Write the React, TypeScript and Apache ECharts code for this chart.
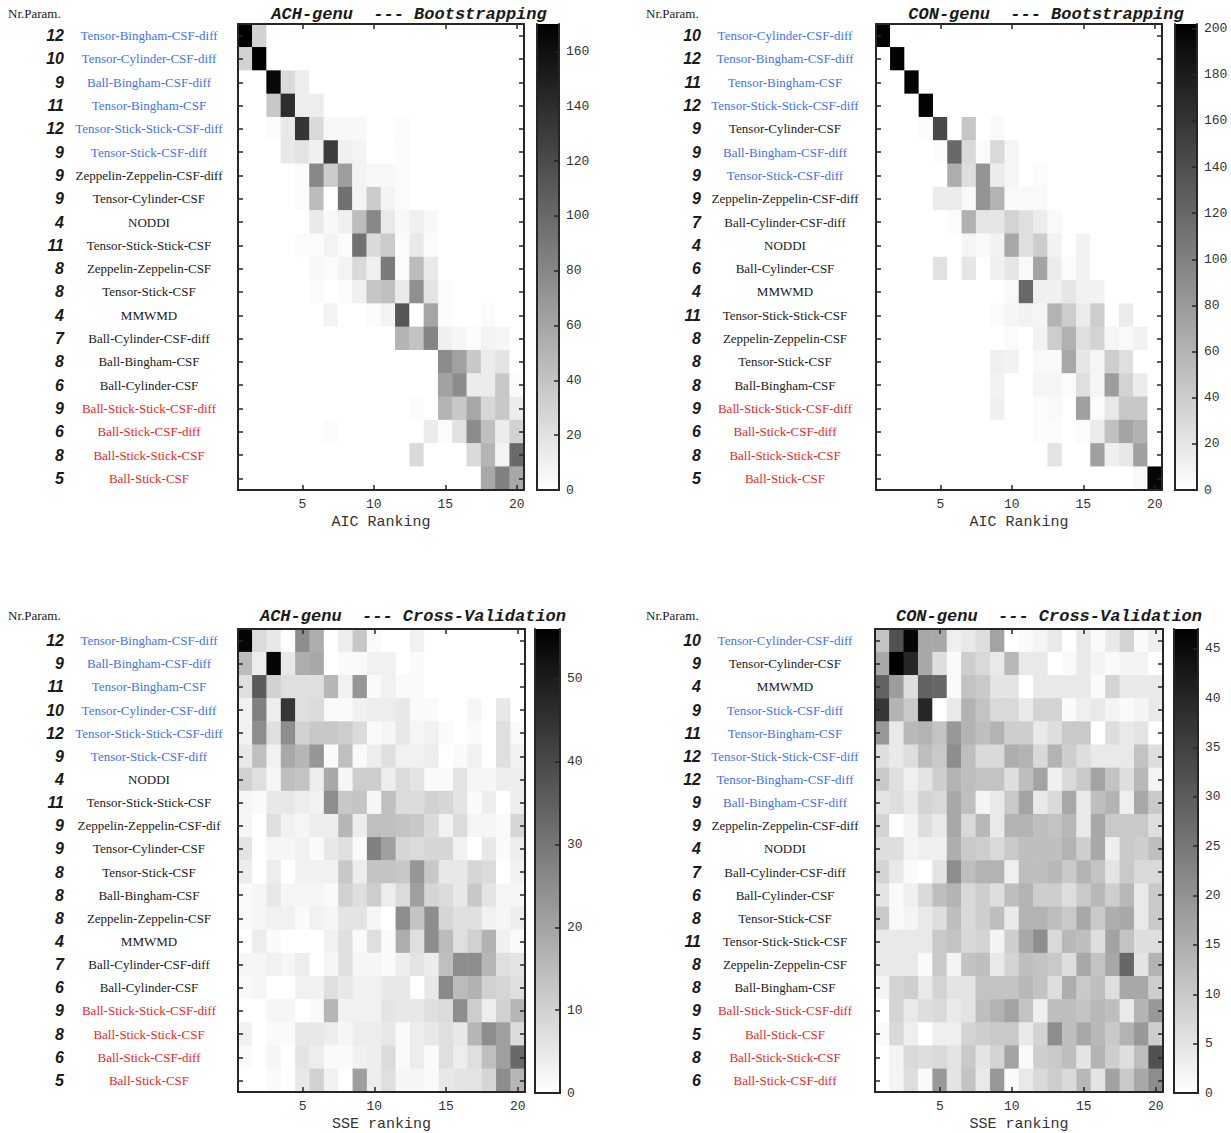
import React, { useEffect, useRef } from "react";
import * as echarts from "echarts";

const RANKS = ["1","2","3","4","5","6","7","8","9","10","11","12","13","14","15","16","17","18","19","20"];

// ---------- Panel 1: ACH-genu Bootstrapping ----------
const achBootNames = ["Tensor-Bingham-CSF-diff","Tensor-Cylinder-CSF-diff","Ball-Bingham-CSF-diff","Tensor-Bingham-CSF","Tensor-Stick-Stick-CSF-diff","Tensor-Stick-CSF-diff","Zeppelin-Zeppelin-CSF-diff","Tensor-Cylinder-CSF","NODDI","Tensor-Stick-Stick-CSF","Zeppelin-Zeppelin-CSF","Tensor-Stick-CSF","MMWMD","Ball-Cylinder-CSF-diff","Ball-Bingham-CSF","Ball-Cylinder-CSF","Ball-Stick-Stick-CSF-diff","Ball-Stick-CSF-diff","Ball-Stick-Stick-CSF","Ball-Stick-CSF"];
const achBootParams = ["12","10","9","11","12","9","9","9","4","11","8","8","4","7","8","6","9","6","8","5"];
const achBootColors = ["b","b","b","b","b","b","k","k","k","k","k","k","k","k","k","k","r","r","r","r"];
const achBootValues = [
  [170,30,0,0,0,0,0,0,0,0,0,0,0,0,0,0,0,0,0,0],
  [30,170,0,0,0,0,0,0,0,0,0,0,0,0,0,0,0,0,0,0],
  [0,0,165,25,12,0,0,0,0,0,0,0,0,0,0,0,0,0,0,0],
  [0,0,37,140,12,12,0,0,0,0,0,0,0,0,0,0,0,0,0,0],
  [0,0,3,15,135,25,5,5,5,0,0,3,0,0,0,0,0,0,0,0],
  [0,0,0,15,18,10,130,10,8,0,0,3,0,0,0,0,0,0,0,0],
  [0,0,0,0,3,80,35,65,8,5,5,3,0,0,0,0,0,0,0,0],
  [0,0,0,0,3,45,0,95,8,35,8,3,0,0,0,0,0,0,0,0],
  [0,0,0,0,0,15,5,10,45,80,15,5,10,5,0,0,0,0,0,0],
  [0,0,0,0,3,3,8,3,95,25,35,3,15,3,0,0,0,0,0,0],
  [0,0,0,0,0,5,3,8,25,10,88,3,45,15,0,0,0,0,0,0],
  [0,0,0,0,0,3,0,3,10,38,42,15,74,18,3,0,0,0,0,0],
  [0,0,0,0,0,0,8,0,0,3,8,112,0,60,3,0,0,3,0,0],
  [0,0,0,0,0,0,0,0,0,0,0,50,40,82,10,6,3,8,6,0],
  [0,0,0,0,0,0,0,0,0,0,0,0,0,0,77,63,37,13,18,0],
  [0,0,0,0,0,0,0,0,0,0,0,0,0,0,63,77,13,13,37,3],
  [0,0,0,0,0,0,0,0,0,0,0,0,3,0,50,37,58,27,37,13],
  [0,0,0,0,0,0,3,0,0,0,0,0,0,13,3,20,77,43,13,30],
  [0,0,0,0,0,0,0,0,0,0,0,0,25,0,0,0,25,50,8,100],
  [0,0,0,0,0,0,0,0,0,0,0,0,0,0,0,0,0,58,85,58],
];

// ---------- Panel 2: CON-genu Bootstrapping ----------
const conBootNames = ["Tensor-Cylinder-CSF-diff","Tensor-Bingham-CSF-diff","Tensor-Bingham-CSF","Tensor-Stick-Stick-CSF-diff","Tensor-Cylinder-CSF","Ball-Bingham-CSF-diff","Tensor-Stick-CSF-diff","Zeppelin-Zeppelin-CSF-diff","Ball-Cylinder-CSF-diff","NODDI","Ball-Cylinder-CSF","MMWMD","Tensor-Stick-Stick-CSF","Zeppelin-Zeppelin-CSF","Tensor-Stick-CSF","Ball-Bingham-CSF","Ball-Stick-Stick-CSF-diff","Ball-Stick-CSF-diff","Ball-Stick-Stick-CSF","Ball-Stick-CSF"];
const conBootParams = ["10","12","11","12","9","9","9","9","7","4","6","4","11","8","8","8","9","6","8","5"];
const conBootColors = ["b","b","b","b","k","b","b","k","k","k","k","k","k","k","k","k","r","r","r","r"];
const conBootValues = [
  [200,0,0,0,0,0,0,0,0,0,0,0,0,0,0,0,0,0,0,0],
  [0,200,0,0,0,0,0,0,0,0,0,0,0,0,0,0,0,0,0,0],
  [0,0,200,0,0,0,0,0,0,0,0,0,0,0,0,0,0,0,0,0],
  [0,0,0,200,0,0,0,0,0,0,0,0,0,0,0,0,0,0,0,0],
  [0,0,0,3,145,0,45,0,5,0,0,0,0,0,0,0,0,0,0,0],
  [0,0,0,0,3,120,30,3,30,8,0,0,0,0,0,0,0,0,0,0],
  [0,0,0,0,0,65,25,85,15,8,0,3,0,0,0,0,0,0,0,0],
  [0,0,0,0,15,15,5,85,60,5,5,5,0,0,0,0,0,0,0,0],
  [0,0,0,0,0,3,62,20,20,35,25,15,5,0,0,0,0,0,0,0],
  [0,0,0,0,0,0,8,5,10,70,25,40,10,0,10,0,0,0,0,0],
  [0,0,0,0,24,0,20,0,12,20,5,72,15,3,10,0,0,0,0,0],
  [0,0,0,0,0,0,0,0,0,5,120,12,12,20,10,10,0,0,0,0],
  [0,0,0,0,0,0,0,0,3,8,10,8,60,40,15,40,0,15,0,0],
  [0,0,0,0,0,0,0,0,0,3,0,10,40,62,25,35,8,5,10,0],
  [0,0,0,0,0,0,0,0,12,10,0,5,5,70,20,8,40,25,0,0],
  [0,0,0,0,0,0,0,0,10,0,0,8,8,3,25,8,78,35,15,0],
  [0,0,0,0,0,0,0,0,12,0,0,3,5,0,75,3,18,44,44,0],
  [0,0,0,0,0,0,0,0,0,0,0,3,3,0,3,15,50,72,62,0],
  [0,0,0,0,0,0,0,0,0,0,0,0,22,0,0,75,12,18,75,0],
  [0,0,0,0,0,0,0,0,0,0,0,0,0,0,0,0,0,0,5,197],
];

// ---------- Panel 3: ACH-genu Cross-Validation ----------
const achCvNames = ["Tensor-Bingham-CSF-diff","Ball-Bingham-CSF-diff","Tensor-Bingham-CSF","Tensor-Cylinder-CSF-diff","Tensor-Stick-Stick-CSF-diff","Tensor-Stick-CSF-diff","NODDI","Tensor-Stick-Stick-CSF","Zeppelin-Zeppelin-CSF-dif","Tensor-Cylinder-CSF","Tensor-Stick-CSF","Ball-Bingham-CSF","Zeppelin-Zeppelin-CSF","MMWMD","Ball-Cylinder-CSF-diff","Ball-Cylinder-CSF","Ball-Stick-Stick-CSF-diff","Ball-Stick-Stick-CSF","Ball-Stick-CSF-diff","Ball-Stick-CSF"];
const achCvParams = ["12","9","11","10","12","9","4","11","9","9","8","8","8","4","7","6","9","8","6","5"];
const achCvColors = ["b","b","b","b","b","b","k","k","k","k","k","k","k","k","k","k","r","r","r","r"];
const achCvValues = [
  [55,8,5,0,25,18,0,4,12,1,0,0,3,0,0,0,0,0,0,0],
  [15,4,55,5,18,19,0,1,1,3,3,0,1,0,0,0,0,0,0,0],
  [7,36,10,7,7,7,16,3,23,1,3,1,1,0,0,0,0,0,0,0],
  [3,28,4,44,7,8,1,1,3,4,4,5,1,1,0,0,2,0,5,0],
  [3,25,7,25,10,12,12,11,8,1,2,5,2,3,1,0,1,0,7,1],
  [5,14,3,19,16,23,1,14,1,4,7,3,3,4,0,1,3,0,7,3],
  [10,7,2,14,13,4,19,2,11,11,4,8,6,1,1,6,2,2,4,4],
  [2,1,5,5,4,3,25,12,13,2,14,8,8,10,9,6,1,4,0,4],
  [2,0,7,3,2,4,4,16,4,14,14,13,12,8,3,8,2,2,1,9],
  [6,0,2,2,3,1,5,7,1,28,21,9,8,9,9,3,0,5,1,4],
  [4,0,4,0,3,3,3,12,4,13,13,12,23,12,5,5,9,8,0,3],
  [1,2,5,2,2,2,1,10,7,11,4,8,21,9,8,5,12,6,2,2],
  [1,2,3,3,1,3,2,6,6,2,0,25,13,25,9,7,7,3,2,4],
  [0,4,1,0,0,0,3,7,1,7,1,18,7,25,15,7,10,17,3,1],
  [2,2,3,2,4,0,2,7,2,2,1,4,6,4,14,25,25,16,7,6],
  [1,2,0,0,3,3,7,5,3,3,5,5,0,5,26,15,17,10,9,7],
  [0,0,2,2,0,1,16,3,3,3,6,5,5,7,8,25,11,4,10,16],
  [3,0,1,1,5,5,4,2,4,4,5,1,4,5,7,5,16,25,21,8],
  [1,0,2,0,6,4,1,1,3,4,8,1,4,1,7,4,7,14,21,33],
  [0,0,1,0,5,10,3,0,21,4,7,2,2,1,5,6,6,9,25,16],
];

// ---------- Panel 4: CON-genu Cross-Validation ----------
const conCvNames = ["Tensor-Cylinder-CSF-diff","Tensor-Cylinder-CSF","MMWMD","Tensor-Stick-CSF-diff","Tensor-Bingham-CSF","Tensor-Stick-Stick-CSF-diff","Tensor-Bingham-CSF-diff","Ball-Bingham-CSF-diff","Zeppelin-Zeppelin-CSF-diff","NODDI","Ball-Cylinder-CSF-diff","Ball-Cylinder-CSF","Tensor-Stick-CSF","Tensor-Stick-Stick-CSF","Zeppelin-Zeppelin-CSF","Ball-Bingham-CSF","Ball-Stick-Stick-CSF-diff","Ball-Stick-CSF","Ball-Stick-Stick-CSF","Ball-Stick-CSF-diff"];
const conCvParams = ["10","9","4","9","11","12","12","9","9","4","7","6","8","11","8","8","9","5","8","6"];
const conCvColors = ["b","k","k","b","b","b","b","b","k","k","k","k","k","k","k","k","r","r","r","r"];
const conCvValues = [
  [11,32,46,16,16,3,4,6,17,0,1,2,4,0,4,1,4,8,1,3],
  [16,47,40,16,6,1,9,7,4,13,4,4,0,1,4,2,1,2,2,0],
  [29,18,6,29,28,1,11,10,5,5,0,4,4,4,4,1,8,4,4,4],
  [37,14,10,40,0,4,14,11,7,7,4,8,8,1,3,4,2,1,2,4],
  [19,4,13,14,11,19,14,12,14,9,9,4,6,10,10,0,6,4,5,0],
  [6,4,6,12,10,21,12,7,7,15,14,7,14,9,6,4,4,4,11,6],
  [10,6,3,5,9,14,12,11,11,6,12,17,3,7,10,17,11,6,13,2],
  [5,6,4,8,7,16,12,2,4,10,17,4,7,16,4,12,14,3,16,10],
  [8,0,2,6,4,16,7,13,4,14,14,12,11,13,4,16,10,10,10,6],
  [6,6,2,3,3,15,10,9,7,10,12,12,12,14,9,16,3,10,9,12],
  [8,4,1,0,5,21,12,14,14,3,12,12,13,10,14,11,5,10,7,7],
  [5,1,3,7,12,14,7,9,6,12,14,9,9,6,10,13,9,13,4,10],
  [10,1,2,4,6,12,7,9,12,4,14,14,12,10,16,10,15,16,4,10],
  [4,4,4,4,10,11,7,8,2,9,16,21,7,13,12,6,17,11,6,6],
  [4,4,4,1,10,2,11,12,4,8,12,11,10,6,16,11,16,28,5,14],
  [2,8,9,4,8,5,5,11,11,11,13,11,6,15,10,12,6,16,16,9],
  [0,8,4,6,7,4,5,12,14,17,11,3,12,12,11,13,12,4,14,19],
  [1,7,3,0,3,3,8,9,10,10,4,8,21,12,16,13,10,14,19,9],
  [0,2,7,6,7,5,10,5,8,17,1,9,10,12,5,14,9,6,12,32],
  [0,2,6,1,19,5,11,4,19,1,4,7,9,7,13,5,17,10,16,21],
];

const BLUE = "#4271ef";
const RED = "#ec1f1f";
const INK = "#1a1a1a";
const AXIS = "#262626";

const panels = [
  { names: achBootNames, params: achBootParams, colors: achBootColors, values: achBootValues, max: 170, step: 20,
    xName: "AIC Ranking", title: "ACH-genu  --- Bootstrapping",
    hm: [238, 24, 286, 466], cb: [537, 24, 22, 466], titlePos: [409, 14], nrPos: [8, 13], numRight: 64, nameCenter: 149 },
  { names: conBootNames, params: conBootParams, colors: conBootColors, values: conBootValues, max: 202, step: 20,
    xName: "AIC Ranking", title: "CON-genu  --- Bootstrapping",
    hm: [876, 24, 286, 466], cb: [1175, 24, 22, 466], titlePos: [1046, 14], nrPos: [646, 13], numRight: 701, nameCenter: 785 },
  { names: achCvNames, params: achCvParams, colors: achCvColors, values: achCvValues, max: 56, step: 10,
    xName: "SSE ranking", title: "ACH-genu  --- Cross-Validation",
    hm: [238, 629, 287, 464], cb: [535, 629, 25, 464], titlePos: [413, 616], nrPos: [8, 615], numRight: 64, nameCenter: 149 },
  { names: conCvNames, params: conCvParams, colors: conCvColors, values: conCvValues, max: 47, step: 5,
    xName: "SSE ranking", title: "CON-genu  --- Cross-Validation",
    hm: [875, 629, 288, 464], cb: [1174, 629, 24, 464], titlePos: [1049, 616], nrPos: [646, 615], numRight: 701, nameCenter: 785 },
];

const NAME_W = 176;
const nameStyle = (color: string) => ({
  color, fontFamily: "Liberation Serif", fontSize: 13, width: NAME_W, align: "center",
});

function buildOption() {
  const grid: any[] = [];
  const xAxis: any[] = [];
  const yAxis: any[] = [];
  const series: any[] = [];
  const visualMap: any[] = [];
  const graphic: any[] = [];
  const lineStyle = { color: AXIS, width: 2 };
  const tickStyle = { color: AXIS, width: 1.5 };
  const every5 = (i: number) => (i + 1) % 5 === 0;

  panels.forEach((p) => {
    const gHm = grid.length;
    grid.push({ left: p.hm[0], top: p.hm[1], width: p.hm[2], height: p.hm[3] });
    grid.push({ left: p.cb[0], top: p.cb[1], width: p.cb[2], height: p.cb[3] });
    const gCb = gHm + 1;

    const xb = xAxis.length;
    xAxis.push({
      gridIndex: gHm, type: "category", data: RANKS, position: "bottom", z: 10,
      axisLine: { show: true, lineStyle },
      axisTick: { show: true, inside: true, alignWithLabel: true, interval: every5, length: 5, lineStyle: tickStyle },
      axisLabel: { interval: every5, margin: 8, fontFamily: "Liberation Mono", fontSize: 13, color: "#333" },
      splitLine: { show: false },
      name: p.xName, nameLocation: "middle", nameGap: 25,
      nameTextStyle: { fontFamily: "Liberation Mono", fontSize: 15, color: "#333" },
    });
    xAxis.push({
      gridIndex: gHm, type: "category", data: RANKS, position: "top", z: 10,
      axisLine: { show: true, lineStyle },
      axisTick: { show: true, inside: true, alignWithLabel: true, interval: every5, length: 5, lineStyle: tickStyle },
      axisLabel: { show: false }, splitLine: { show: false },
    });
    xAxis.push({
      gridIndex: gCb, type: "category", data: [""], position: "bottom", z: 10,
      axisLine: { show: true, lineStyle }, axisTick: { show: false }, axisLabel: { show: false },
    });
    xAxis.push({
      gridIndex: gCb, type: "category", data: [""], position: "top", z: 10,
      axisLine: { show: true, lineStyle }, axisTick: { show: false }, axisLabel: { show: false },
    });

    const yb = yAxis.length;
    const rich: any = { b: nameStyle(BLUE), k: nameStyle(INK), r: nameStyle(RED) };
    const nameMargin = p.hm[0] - (p.nameCenter + NAME_W / 2);
    yAxis.push({
      gridIndex: gHm, type: "category", data: p.names, inverse: true, position: "left", z: 10,
      axisLine: { show: true, lineStyle },
      axisTick: { show: true, inside: true, alignWithLabel: true, length: 5, lineStyle: tickStyle },
      axisLabel: {
        interval: 0, margin: nameMargin, rich,
        formatter: (val: string, idx: number) => `{${p.colors[idx]}|${val}}`,
      },
      splitLine: { show: false },
    });
    yAxis.push({
      gridIndex: gHm, type: "category", data: p.names, inverse: true, position: "right", z: 10,
      axisLine: { show: true, lineStyle },
      axisTick: { show: true, inside: true, alignWithLabel: true, length: 5, lineStyle: tickStyle },
      axisLabel: { show: false }, splitLine: { show: false },
    });
    // number-of-parameters column
    yAxis.push({
      gridIndex: gHm, type: "category", data: p.params, inverse: true, position: "left", z: 10,
      axisLine: { show: false }, axisTick: { show: false }, splitLine: { show: false },
      axisLabel: {
        interval: 0, margin: p.hm[0] - p.numRight, align: "right",
        fontFamily: "Liberation Sans", fontWeight: "bold", fontStyle: "italic", fontSize: 16, color: INK,
      },
    });
    yAxis.push({
      gridIndex: gCb, type: "value", min: 0, max: p.max, interval: p.step, position: "left", z: 10,
      axisLine: { show: true, lineStyle }, axisTick: { show: false }, axisLabel: { show: false }, splitLine: { show: false },
    });
    yAxis.push({
      gridIndex: gCb, type: "value", min: 0, max: p.max, interval: p.step, position: "right", z: 10,
      axisLine: { show: true, lineStyle },
      axisTick: { show: true, inside: true, length: 5, lineStyle: tickStyle },
      axisLabel: {
        margin: 7, fontFamily: "Liberation Mono", fontSize: 13, color: "#333", showMaxLabel: false,
        formatter: (v: number) => (v % p.step === 0 ? String(v) : ""),
      },
      splitLine: { show: false },
    });

    const data: number[][] = [];
    p.values.forEach((row, r) => row.forEach((v, c) => data.push([c, r, v])));
    series.push({
      type: "heatmap", xAxisIndex: xb, yAxisIndex: yb, data,
      emphasis: { disabled: true }, itemStyle: { borderWidth: 0 },
    });
    visualMap.push({
      show: false, type: "continuous", seriesIndex: series.length - 1, dimension: 2,
      min: 0, max: p.max, inRange: { color: ["#ffffff", "#000000"] },
    });

    graphic.push({
      type: "rect", z: 1,
      shape: { x: p.cb[0], y: p.cb[1], width: p.cb[2], height: p.cb[3] },
      style: {
        fill: new echarts.graphic.LinearGradient(0, 0, 0, 1, [
          { offset: 0, color: "#000000" }, { offset: 1, color: "#ffffff" },
        ]),
      },
    });
    graphic.push({
      type: "text", z: 20, x: p.titlePos[0], y: p.titlePos[1],
      style: { text: p.title, font: 'italic bold 17px "Liberation Mono"', fill: INK, align: "center", verticalAlign: "middle" },
    });
    graphic.push({
      type: "text", z: 20, x: p.nrPos[0], y: p.nrPos[1],
      style: { text: "Nr.Param.", font: '13px "Liberation Serif"', fill: INK, align: "left", verticalAlign: "middle" },
    });
  });

  return { animation: false, backgroundColor: "#ffffff", grid, xAxis, yAxis, series, visualMap, graphic };
}

export default function App() {
  const ref = useRef<HTMLDivElement>(null);
  useEffect(() => {
    if (!ref.current) return;
    const chart = echarts.init(ref.current, undefined, { renderer: "svg" });
    chart.setOption(buildOption() as any);
    return () => chart.dispose();
  }, []);
  return (
    <div
      ref={ref}
      style={{ position: "absolute", left: 0, top: 0, width: 1231, height: 1133, background: "#fff" }}
    />
  );
}
